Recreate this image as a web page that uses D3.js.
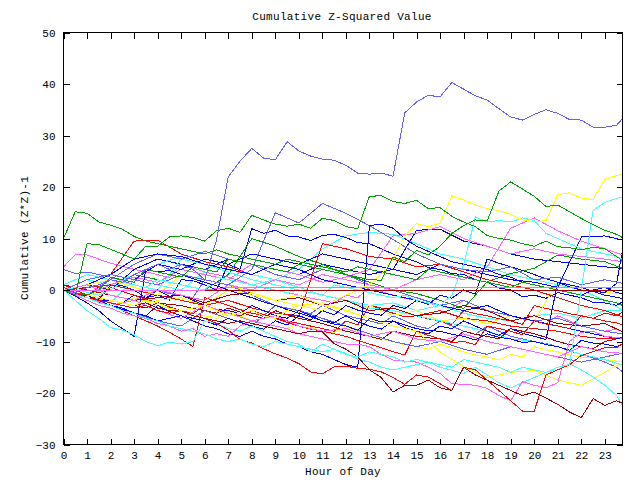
<!DOCTYPE html>
<html>
<head>
<meta charset="utf-8">
<script src="https://cdn.jsdelivr.net/npm/d3@7"></script>
<style>
  html, body { margin: 0; padding: 0; background: #fff; }
  svg { display: block; }
  text { font-family: "Liberation Mono", "DejaVu Sans Mono", monospace; font-size: 11px; fill: #000; }
</style>
</head>
<body>
<div id="runApp"></div>
<script>
let svg;

const width = 640;
const height = 480;
const fontStack = '"Liberation Mono", "DejaVu Sans Mono", monospace';

const titleText = "Cumulative Z-Squared Value";
const xTitle = "Hour of Day";
const yTitle = "Cumulative (Z*Z)-1";

const hourTicks = d3.range(0, 24);
const valueTicks = [-30, -20, -10, 0, 10, 20, 30, 40, 50];

const palette = {
  red: "#ff0000",
  green: "#00a000",
  blue: "#0000ff",
  lightblue: "#6060ff",
  magenta: "#ff60ff",
  cyan: "#40ffff",
  darkred: "#a00000",
  yellow: "#ffff00",
};

// half-hour readings (49 values, last one at 23:45)
const lb1 = [0, -0.5, 0.5, 1, 2, 1.5, 3, 4, 5, 4, 5, 4, 2, 9.7, 22, 25, 27.5, 25.6, 25.3, 28.8, 27, 26, 25.4, 25.2, 24.2, 22.7, 22.5, 22.7, 22.1, 34.4, 36.5, 37.8, 37.5, 40.3, 39, 37.7, 36.9, 35.2, 33.6, 33, 34.1, 35, 34.3, 33.1, 33, 31.6, 31.6, 32, 33.3];
const g0 = [10, 15.2, 14.9, 13.2, 12.6, 11.8, 10.4, 9.5, 9, 8.5, 8, 7.5, 7, 7.8, 7, 6.5, 6, 5.5, 5, 6, 5.5, 5, 4.5, 4, 3.5, 4.5, 4, 3.5, 3, 2.5, 2, 4, 3.5, 3, 2.5, 2, 1.5, 1, 0.5, 1.5, 1, 0.5, 0, -0.5, -1, -1.5, -2, -2.5, -3];
const g1 = [0, -1, 9, 8.8, 7.9, 7, 6, 8.5, 8.5, 10.3, 10.5, 10.2, 9.5, 11.5, 12, 11.2, 14.5, 13.6, 12.8, 12.4, 12.8, 12, 13.9, 13.5, 12.3, 11.9, 18.2, 18.3, 17.2, 16.8, 17.4, 15.8, 16, 14.3, 13.2, 12.3, 10.6, 10, 9.7, 9, 8.5, 9.5, 8.4, 8.2, 7.8, 8.3, 8, 6.5, 5.7];
const g2 = [0, -0.5, -1, 0, 2.5, 2, 1.5, 4, 3.5, 3, 2.5, 4.5, 4, 3.5, 6, 5.5, 5, 4.5, 4, 3.5, 5, 4.5, 4, 3.5, 3, 2.5, 2, 1.9, 6.4, 5.5, 7.7, 6.8, 8.5, 11, 12.5, 13.6, 13.4, 19.2, 21, 19.6, 18.2, 16.2, 16.5, 15.2, 13.9, 12.7, 11.6, 10.8, 10.2];
const y1 = [0, -0.5, -1, -1.5, -2, -2.5, -3, -2, -2.5, -3.5, -4, -3.5, -3, -4, -5, -4.5, -4, -5, -5.5, -4, -3, -3.5, -4, -2, -1, 0, 1, 3, 6, 10.5, 12.9, 12.3, 13, 18.3, 17.5, 16.5, 15.8, 15.4, 14.7, 13.6, 13.2, 13.5, 18.5, 18.9, 17.8, 17.6, 21.5, 22.2, 22.5];
const c1 = [0, -1, -1.5, -2.5, -3, -4, -4.5, -5.5, -6, -7, -7.5, -8, -8.5, -9.5, -10, -9.5, -10.5, -11, -10, -10.5, -11, -11.5, -12, -11.5, -12.5, -13, -12, -12.5, -13, -14, -13.5, -14, -14.5, -15, -13.5, -14, -14.5, -15, -16, -15, -15.5, -16, -15, -14.5, 0, 15.5, 17, 17.8, 18.1];
const c2 = [0, 0.5, -0.5, -1, 0, 1.5, 1, 0.5, 2, 1.5, 1, 0.5, 0, 2.5, 2, 1.5, 1, 0.5, 0, -0.5, 0, -0.5, -1, 1, 0.5, 0, -0.5, -1, -1.5, -1, -2, -2.5, -3, -1, 5, 14.2, 13.2, 13.5, 13.2, 14, 13.5, 11, 10, 9, 8, 7.5, 7, 6.5, 6];
const c3 = [0, -2, -4, -5.5, -7.3, -7.8, -8.7, -10, -10.8, -10.1, -10.5, -10, -6, -6.5, -7.5, -8, -7, -8, -9, -10, -10.5, -12, -10.5, -11.5, -12.3, -13.5, -14, -15, -15.5, -15, -14.5, -14, -15, -15.6, -16.2, -15, -16.5, -18, -19, -18, -17, -16, -15.5, -14.3, -15.5, -16.9, -18.5, -20.5, -22.4];
const dr1 = [0, -0.5, -1, -1.5, -2, -2.5, -3, -2.5, -3.5, -4, -4, -5, -5.5, -6, -6.5, -6, -6.5, -7, -7.5, -8, -8.5, -8, -8.1, -10.4, -11.5, -13, -15.5, -17, -19.8, -18.5, -18.5, -17.5, -19, -19.5, -15, -16.5, -17.5, -18.5, -19.5, -20.5, -19.8, -21, -22.2, -23.7, -24.8, -21.1, -22.4, -21.5, -22];
const r1 = [0.5, -0.5, -1.5, -2, -2.5, -3, -3.5, -3, -4, -4.5, -4, -5, -5.5, -6.5, -7.8, -9.6, -10.3, -11.4, -12.4, -13.2, -14.3, -15.9, -16.3, -14.9, -14.8, -15.2, -15.4, -15.9, -17, -18.3, -16.5, -16.9, -18.2, -19.5, -15, -15.5, -17.5, -19.5, -21.5, -23.5, -23.5, -16.5, -15.5, -14.5, -12.7, -12, -11.2, -11.2, -10.4];
const m1 = [0, -1, -2, -3, -3.5, -4.5, -5, -5.5, -6.5, -7, -8, -7.5, -9, -8.5, -9, -7, -6, -6.5, -7, -7.5, -8.5, -9, -9.5, -10, -10.5, -10.5, -11, -12.5, -13.6, -13.8, -14, -15, -16.2, -18.2, -18.3, -18.5, -19.1, -20.5, -21.5, -17.8, -18.5, -19, -18, -10, -8.2, -8, -9, -9.2, -9.4];
const b1 = [0, -1.2, -1, -1.8, 1, 0.8, 0, -1.5, -1, -2, 2, 1.8, 1, 0, 5, 4, 11.9, 11, 11.6, 10.5, 10.3, 9.6, 10.6, 10.8, 10.2, 9.2, 9, 8, 7, 6.2, 5.5, 4.3, 4, 3.2, 3, 2, 1.5, 0.4, 0, -1.3, -1, -1.6, -0.5, -1, -1.5, -2.4, -2.5, -3, -2.3];
const b2 = [0, -0.5, -1.5, -2, -3, -3.5, -4.5, -5, -6, -5.5, -5, -6, -7, -7.5, -8.5, -9, -8, -9, -9.5, -10.5, -11, -12, -12.5, -13.5, -14.5, -15, 12.5, 12.8, 12, 10, 8.5, 7.5, 6.5, 5.5, 5, 4.5, 4, 3, 2.5, 1.5, 1, 0.5, 0, -0.5, -1, 0, 0.5, -0.5, -0.7];
const b5 = [0, -0.8, -1, -2.2, -2, -2.5, -1, -1.6, 0, -1.2, -1, -2, -3, -3.8, -4, -4.6, -3, -4, -5, -5.5, -4, -5, -6, -6.3, -5, -6.2, -7, -7.6, -6, -7.3, -8, -8.5, -7, -7.5, -6, -7, -8, -8.8, -7.5, -8.4, -9, -9.6, 1.5, 0.6, 0, -0.2, -0.5, 1.3, 7.7];
const b6 = [0, -0.8, -1.5, -2.3, -3, -3.8, -4.5, -5, -3, -4.2, -5, -5.5, -6, -6.8, -5.5, -6.3, -7, -7.6, -6, -6.8, -5, -5.8, -4, -4.8, -3, -3.9, -4.5, -4.9, -3, -3.6, -2, -2.8, -1, -1.6, 0, -0.8, 6, 5.2, 4.5, 3.8, 3, 2.2, 1.5, 1, 0.5, -0.3, -1, -1.4, -1.7];
const b7 = [0, -1.2, -2.5, -4, -6, -7.5, -9, 4, 3.5, 3.8, 3, 2.2, 1.5, 0.8, 0, -0.8, -1.5, -2.3, -3, -3.8, -4.5, -5.2, -6, -6.6, -7, -7.8, -5.5, -6.2, -6, -6.8, -7.5, -7.9, -8, -8.6, -9, -9.7, -8.5, -9.2, -9.5, -10.2, -10, -10.6, -11, -11.7, -9.8, -10.3, -10.5, -11, -10.4];
const lb3 = [4, 3.2, 3.5, 3, 2.5, 1.8, 1, 0.5, 0, -0.7, -1, -1.5, 2, 1.5, 1, 0, -1, -2, -3, -3.6, -4, -4.6, -3, -4, -5, -5.5, -6, -6.6, -5, -6, -7, -7.5, -6, -7, -8, -8.6, -7, -8, -9, -9.5, -10, -10.4, -11, -11.8, -12.5, -13.2, -14, -15, -15.9];
const r3 = [1, 0, -1, -2, -3, -4, -5, -6, -7, -8.2, -9.5, -11, -1.5, -2.2, -3, -3.8, -4.5, -5, -5.5, -6, -6.5, -7, -7.5, -8, -6, -6.8, -3, -3.8, -4.5, -5.2, -5, -5.6, -6, -6.7, -4, -4.6, -5, -5.6, -6, -6.7, -3, -3.6, -4, -4.6, -5, -5.5, -4.5, -5, -4.3];
const r5 = [0, -0.6, -1, -1.5, 0.5, -0.3, -1, -1.8, -2.5, -3.3, -4, -4.6, -3, -3.8, -4.5, -5, -4, -4.8, -5.5, -6.3, -7, -7.6, -8, -8.5, -9, -9.8, -10.5, -11.2, -12, -12.6, -8, -8.8, -9.5, -10.2, -10, -10.6, -7, -7.5, -8, -8.7, -6, -6.6, -7, -7.5, -5, -5.5, -6, -6.4, -6.8];
const m2 = [4.5, 6.8, 6.8, 6, 5.2, 4.6, 4, 3.5, 3, 2.4, 5, 4.3, 3.5, 3, 2.5, 1.8, 1, 0.4, 0, -0.5, -1, -1.6, -2, -2.5, -1, -1.5, 0.5, -0.3, -1, -1.6, -2, -2.6, -3, -3.5, -2, -3, -4, -4.5, -5, -5.6, -6, -6.5, -5, -6, -7, -7.5, -8, -7.6, -8.1];
const y2 = [0, -0.6, -1, -1.6, -2, -2.6, -1.5, -2.2, -3, -3.6, -4, -4.5, -5, -5.5, -4, -5, -6, -6.5, -7, -7.5, -6.5, -7.2, -8, -8.4, -7, -8, -9, -9.5, -10, -10.6, -11, -11.5, -10.5, -11.2, -12, -12.6, -13, -13.6, -12.5, -13, -11, -11.6, -12, -12.6, -13, -13.2, -13.5, -13.8, -14];
const dr2 = [0, -0.5, -1, -1.6, -2, -2.5, -3, -3.5, -2.5, -2.8, -3, -3.6, -4, -4.5, -3.5, -4.3, -5, -5.5, -4, -4.8, -5.5, -6, -6.5, -7.2, -8, -8.5, -9, -9.6, -8, -8.5, -9, -9.3, -9.5, -10, -8, -8.6, -9, -9.5, -7.5, -8, -8.5, -9.2, -10, -10.6, -11, -11.4, -10, -9.5, -9.1];

// hourly readings (25 values, last one at 23:45)
const b3 = [0, 1, 0, 4, 6, 5, 4, 6, 5, 4, 3, 5, 4, 3, 4, 11.6, 11.8, 9.5, 8.5, 7, 6, 5.5, 5, 4.5, 4.2];
const b4 = [0, 1, 3, 2, 5, 4, 6, 5, 7, 6, 5, 7, 6, 5, 4, 3, 5, 4, 3, 2, 1.5, 0.5, 10.3, 10.5, 9.7];
const b8 = [0, 2, 3, 6, 7, 6.5, 5, 4, 3, 5, 4, 2, 1, 0, -1, -2, -3, -4, -3, -5, -6, -7, -8, -9, -9.5];
const lb2 = [0, 2, 3, 2, 1, 3, 2, 1, 4, 15, 13, 16.8, 14.9, 12.5, 9.8, 7, 5, 4, 3.5, 4.5, 2, 2.5, 1, 2, 1.3];
const lb4 = [0, -1.5, -3, -4.5, -6, -7, -4, -5.5, -7, -3, -4, -5.5, -7, -8.5, -10, -11, -10, -11.5, -12.5, -11, -12, -13, -14, -13, -12.3];
const lb5 = [0, -1, 2, 5, 7, 6, 7.5, 6, 5, 3, 2, 4, 3, 1, 0, -1.5, -3, -2, -4, -5, -6, -5.5, -7, -8, -8.5];
const r2 = [0, 1, 3, 9.5, 9.7, 7, 5.5, 4.5, 3, 2, 0.5, -1, -2, -3, -4, -5, -4, -5.5, -6, -7, -7.5, -8, -9, -9.5, -9.4];
const r4 = [0, 0.5, 1, 0, -1, -2, -3, -2, -3.5, -4.5, -5, 9, 8, 6.5, 6, 4.5, 5, 3.5, 2, 1, 0, -1.5, -3, -4, -5.2];
const m3 = [0, -1, 1, 2.5, 1.5, 4, 3, 2, 5, 4, 3, 1.5, 2.5, 4, 10.5, 11, 12.3, 10, 8.5, 7, 8, 7, 6.5, 6, 5.5];
const m4 = [0, 1, -1, -2, 0, -1, -2, 1, 0, 2, 1, 3, 2, 1, 0, 2, 3, 2, 4.5, 12, 14, 11.5, 9.5, 8, 6.8];
const m5 = [0, -1.5, -3, -2, -4, -5.5, -3, -4.5, -6, -5, -7, -8, -7.5, -9, -8, -9.5, -10, -8.5, -10, -11, -12, -13, -11, -12, -12.3];
const cy4 = [0, -1, -2.5, 2, 1, 0, 3.5, 2.5, 1, 2, 0.5, -1, -2, -3, -2.5, -4, -3, -4.5, -5.5, -6, -5, -4.5, -5.5, -4, -3.9];
const cy5 = [1, 3, 2, 1, 0, 6, 5, 3.5, 2, 1, 0, -1, -2, -3.5, -4, -5, -6, -7, -8, -9.5, -10, -11, -12.5, -13.5, -14.6];
const cy6 = [0, 2, 1, 3, 5, 6.5, 5, 4, 3, 2, 4, 8, 10.5, 11.2, 10.8, 9, 7, 6, 4.5, 3, 2, 1, 0, -2, -3.9];
const y3 = [0, -1, 0.5, -1, -2, -1.5, -3, 0, -1, -2, -3, -2.5, -4, -3, -5, -4, -6, -5.5, -6.5, -5, -6, 1.5, 0, -0.5, -0.7];
const y4 = [0, 1, 2, 0.5, -1, 3, 2, 1, -0.5, -2, -1, -3, -4, -5.5, -7, -8, -12, -14.9, -17, -16, -15.6, -17.5, -18.5, -16, -14];
const dr3 = [1, 0, -1, -2, -1.5, -1, -2.5, -1, -0.5, -2, -1.5, -3, -2, -4, -3.5, -5, -4.5, -3, -4, -6, -5, -6.5, -7, -6.5, -8.1];
const g5 = [0, -1, 1, 3, 2, 1, 0, 3, 10, 8.5, 6.5, 5, 3, 1.5, 0, -0.7, -2, -3.6, 1.6, 3.2, 4.2, 6.8, 6, 5.5, 4.2];
const drFlat = [0, 0, 0, 0, 0, 0, 0, 0, 0, 0, 0, 0, 0, 0, 0, 0, 0, 0, 0, 0, 0, 0, 0, 0, 0];
const mFlat = [0, 0, 0, 0, 0, 0, 0, 0.5, 0.5, 0.5, 0.5, 0.5, 0.5, 0.5, 0.5, 0.5, 0.5, 0.5, 0.5, 0.5, 0.5, 0.5, 0.5, 0.5, 0.5];

const seriesList = [
  { colour: "blue", values: b1 },
  { colour: "red", values: r2 },
  { colour: "yellow", values: y2 },
  { colour: "lightblue", values: lb3 },
  { colour: "cyan", values: cy4 },
  { colour: "magenta", values: m2 },
  { colour: "darkred", values: dr2 },
  { colour: "blue", values: b3 },
  { colour: "red", values: r3 },
  { colour: "green", values: g5 },
  { colour: "yellow", values: y3 },
  { colour: "lightblue", values: lb4 },
  { colour: "cyan", values: cy6 },
  { colour: "magenta", values: m3 },
  { colour: "blue", values: b4 },
  { colour: "cyan", values: cy5 },
  { colour: "red", values: r4 },
  { colour: "lightblue", values: lb5 },
  { colour: "darkred", values: dr3 },
  { colour: "blue", values: b5 },
  { colour: "yellow", values: y4 },
  { colour: "magenta", values: m4 },
  { colour: "blue", values: b8 },
  { colour: "blue", values: b6 },
  { colour: "red", values: r5 },
  { colour: "magenta", values: m5 },
  { colour: "blue", values: b7 },
  { colour: "lightblue", values: lb2 },
  { colour: "blue", values: b2 },
  { colour: "cyan", values: c2 },
  { colour: "green", values: g0 },
  { colour: "cyan", values: c3 },
  { colour: "magenta", values: m1 },
  { colour: "red", values: r1 },
  { colour: "darkred", values: dr1 },
  { colour: "cyan", values: c1 },
  { colour: "yellow", values: y1 },
  { colour: "green", values: g2 },
  { colour: "green", values: g1 },
  { colour: "lightblue", values: lb1 },
  { colour: "darkred", values: drFlat },
  { colour: "magenta", values: mFlat },
];

const x = d3.scaleLinear().domain([0, 23.75]).range([63.5, 622.5]);
const y = d3.scaleLinear().domain([-30, 50]).range([444.5, 32.5]);

// each series is read either every half hour or every hour, ending at 23:45
function hoursFor(values) {
  const step = values.length === 49 ? 0.5 : 1;
  const hrs = d3.range(values.length - 1).map((i) => i * step);
  hrs.push(23.75);
  return hrs;
}

async function prepareVis() {
  svg = d3
    .select("#runApp")
    .append("svg")
    .attr("width", width)
    .attr("height", height)
    .style("background", "#ffffff");
}

async function drawVis() {
  const line = d3
    .line()
    .x((d) => x(d[0]))
    .y((d) => y(d[1]));

  svg
    .append("g")
    .attr("class", "series")
    .selectAll("path")
    .data(seriesList)
    .join("path")
    .attr("d", (s) => {
      const hrs = hoursFor(s.values);
      return line(s.values.map((v, i) => [hrs[i], v]));
    })
    .attr("fill", "none")
    .attr("stroke", (s) => palette[s.colour])
    .attr("stroke-width", 1)
    .attr("shape-rendering", "crispEdges");

  // axes, ticks point inward on all four sides
  const bottom = svg
    .append("g")
    .attr("transform", `translate(0, ${y(-30)})`)
    .call(d3.axisBottom(x).tickValues(hourTicks).tickSizeInner(-6).tickSizeOuter(0).tickPadding(7));
  const top = svg
    .append("g")
    .attr("transform", `translate(0, ${y(50)})`)
    .call(d3.axisTop(x).tickValues(hourTicks).tickSizeInner(-6).tickSizeOuter(0).tickFormat(""));
  const left = svg
    .append("g")
    .attr("transform", `translate(${x(0)}, 0)`)
    .call(d3.axisLeft(y).tickValues(valueTicks).tickSizeInner(-6).tickSizeOuter(0).tickPadding(8));
  const right = svg
    .append("g")
    .attr("transform", `translate(${x(23.75)}, 0)`)
    .call(d3.axisRight(y).tickValues(valueTicks).tickSizeInner(-6).tickSizeOuter(0).tickFormat(""));

  [bottom, top, left, right].forEach((g) => {
    g.select(".domain").remove();
    g.selectAll("line").attr("stroke", "#000").attr("shape-rendering", "crispEdges");
    g.selectAll("text")
      .attr("fill", "#000")
      .style("font-family", fontStack)
      .style("font-size", "11px");
  });

  svg
    .append("rect")
    .attr("x", x(0))
    .attr("y", y(50))
    .attr("width", x(23.75) - x(0))
    .attr("height", y(-30) - y(50))
    .attr("fill", "none")
    .attr("stroke", "#000")
    .attr("shape-rendering", "crispEdges");

  svg
    .append("text")
    .attr("x", 342)
    .attr("y", 19.5)
    .attr("text-anchor", "middle")
    .style("letter-spacing", "0.3px")
    .text(titleText);

  svg
    .append("text")
    .attr("x", 343)
    .attr("y", 474.5)
    .attr("text-anchor", "middle")
    .style("letter-spacing", "0.3px")
    .text(xTitle);

  svg
    .append("text")
    .attr("transform", "translate(27.5, 238) rotate(-90)")
    .attr("text-anchor", "middle")
    .style("letter-spacing", "0.3px")
    .text(yTitle);
}

async function runApp() {
  await prepareVis();
  await drawVis();
}

runApp();
</script>
</body>
</html>
